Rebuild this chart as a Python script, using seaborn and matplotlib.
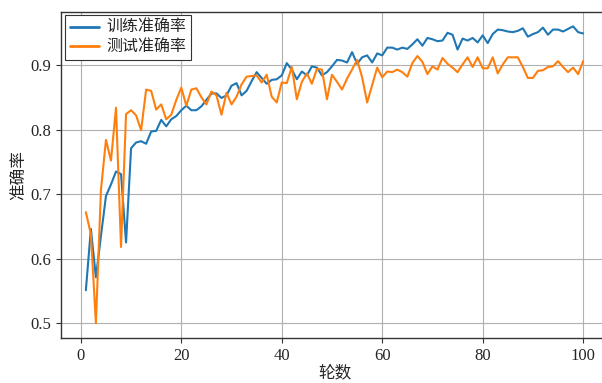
import numpy as np
import pandas as pd
import matplotlib
matplotlib.use("Agg")
import matplotlib.pyplot as plt
import seaborn as sns

epochs = list(range(1, 101))

train_acc = [
    0.551, 0.646, 0.571, 0.635, 0.697, 0.715, 0.735, 0.731, 0.625, 0.771,
    0.780, 0.782, 0.778, 0.797, 0.798, 0.815, 0.805, 0.816, 0.821, 0.830,
    0.837, 0.830, 0.830, 0.836, 0.846, 0.856, 0.856, 0.849, 0.853, 0.868,
    0.872, 0.853, 0.860, 0.875, 0.889, 0.880, 0.871, 0.877, 0.878, 0.884,
    0.903, 0.893, 0.878, 0.890, 0.884, 0.898, 0.896, 0.884, 0.889, 0.898,
    0.908, 0.907, 0.904, 0.920, 0.902, 0.912, 0.915, 0.904, 0.918, 0.915,
    0.927, 0.927, 0.924, 0.927, 0.925, 0.932, 0.940, 0.930, 0.942, 0.940,
    0.937, 0.938, 0.950, 0.947, 0.924, 0.941, 0.938, 0.942, 0.935, 0.946,
    0.934, 0.948, 0.955, 0.954, 0.952, 0.951, 0.953, 0.957, 0.944, 0.948,
    0.951, 0.958, 0.947, 0.955, 0.955, 0.952, 0.956, 0.960, 0.951, 0.949,
]

test_acc = [
    0.672, 0.638, 0.500, 0.706, 0.784, 0.752, 0.834, 0.618, 0.824, 0.830,
    0.822, 0.799, 0.862, 0.860, 0.831, 0.839, 0.816, 0.823, 0.846, 0.865,
    0.837, 0.862, 0.864, 0.850, 0.839, 0.859, 0.853, 0.823, 0.857, 0.839,
    0.851, 0.870, 0.882, 0.883, 0.884, 0.873, 0.885, 0.851, 0.842, 0.873,
    0.872, 0.897, 0.847, 0.874, 0.887, 0.871, 0.894, 0.893, 0.847, 0.885,
    0.874, 0.862, 0.879, 0.893, 0.908, 0.881, 0.842, 0.869, 0.896, 0.881,
    0.890, 0.889, 0.893, 0.889, 0.882, 0.903, 0.914, 0.905, 0.886, 0.898,
    0.893, 0.911, 0.902, 0.896, 0.889, 0.901, 0.912, 0.897, 0.912, 0.895,
    0.895, 0.912, 0.887, 0.901, 0.912, 0.912, 0.912, 0.897, 0.880, 0.880,
    0.891, 0.892, 0.897, 0.898, 0.906, 0.897, 0.889, 0.896, 0.886, 0.906,
]

series_names = ["训练准确率", "测试准确率"]
x_label = "轮数"
y_label = "准确率"

sns.set_style("ticks")
plt.rcParams["font.family"] = ["Liberation Serif", "Noto Sans CJK SC", "DejaVu Sans"]
plt.rcParams["axes.unicode_minus"] = False

df = pd.DataFrame({
    "epoch": epochs * 2,
    "acc": train_acc + test_acc,
    "series": [series_names[0]] * len(epochs) + [series_names[1]] * len(epochs),
})

fig = plt.figure(figsize=(6.02, 3.83), dpi=100)
ax = fig.add_axes([61 / 602, 45 / 383, 547 / 602, 326.5 / 383])

sns.lineplot(data=df, x="epoch", y="acc", hue="series",
             palette=["#1f77b4", "#ff7f0e"], linewidth=1.5, ax=ax)

ax.set_xlim(-3.95, 104.95)
ax.grid(True, color="#b0b0b0", linewidth=0.8)
ax.set_axisbelow(True)
ax.set_xlabel(x_label, fontsize=12, labelpad=1)
ax.set_ylabel(y_label, fontsize=12, labelpad=2)
ax.tick_params(labelsize=12, length=3.5, width=0.8, color="#333333")
ax.set_xticks([0, 20, 40, 60, 80, 100])
ax.set_yticks([0.5, 0.6, 0.7, 0.8, 0.9])
for sp in ax.spines.values():
    sp.set_color("#333333")
    sp.set_linewidth(1.0)
ax.spines["right"].set_visible(False)

leg = ax.legend(loc="upper left", fontsize=11.5, frameon=True, fancybox=False,
                borderaxespad=0.25, handlelength=1.8, handletextpad=0.5,
                borderpad=0.3, labelspacing=0.2)
leg.get_frame().set_edgecolor("#333333")
leg.get_frame().set_linewidth(0.8)
leg.get_frame().set_alpha(1)
for line in leg.get_lines():
    line.set_linewidth(2.0)

fig.savefig("out.png", dpi=100)
